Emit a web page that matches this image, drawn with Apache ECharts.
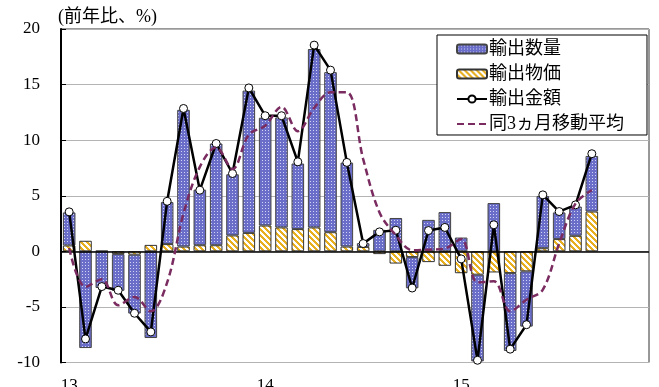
<!DOCTYPE html>
<html>
<head>
<meta charset="utf-8">
<script src="https://cdn.jsdelivr.net/npm/echarts@6/dist/echarts.min.js"></script>
<style>
  html, body { margin: 0; padding: 0; background: #fff; }
  #chart { width: 659px; height: 387px; }
</style>
</head>
<body>
<div id="chart"></div>
<script>
// Year labels on the category axis (one per January)
const yearLabels = ['13', '14', '15'];
// Monthly categories, Jan 2013 - Dec 2015
const categories = [];
yearLabels.forEach(function (y) {
  for (let m = 1; m <= 12; m++) categories.push(y + '/' + m);
});

// 輸出物価 (export prices), % y/y
const exportPrice = [0.53, 0.95, 0.05, -0.25, -0.3, 0.58, 0.65, 0.43, 0.55, 0.55, 1.43, 1.66,
  2.32, 2.15, 2.0, 2.15, 1.72, 0.43, 0.4, -0.25, -1.1, -0.52, -0.97, -1.3,
  -1.97, -2.1, -1.9, -1.96, -1.8, 0.28, 1.1, 1.4, 3.58];
// 輸出数量 (export volume), % y/y
const exportVolume = [2.97, -8.7, -3.3, -3.3, -5.3, -7.8, 3.78, 12.3, 5.0, 9.15, 5.5, 12.8,
  9.7, 9.9, 5.9, 16.05, 14.4, 7.55, 0.33, 1.93, 3.0, -2.8, 2.83, 3.53,
  1.24, -7.8, 4.34, -7.0, -4.97, 4.7, 2.4, 2.63, 5.0];
// 輸出金額 (export value), % y/y
const exportValue = [3.55, -7.88, -3.17, -3.5, -5.57, -7.25, 4.5, 12.85, 5.5, 9.7, 7.0, 14.7,
  12.2, 12.2, 8.05, 18.55, 16.3, 8.0, 0.7, 1.75, 1.9, -3.3, 1.87, 2.15,
  -0.68, -9.8, 2.39, -8.8, -6.6, 5.08, 3.58, 4.18, 8.78];
// 同3ヵ月移動平均 (3-month moving average of export value)
const valueMA3 = [0.3, -3.2, -2.5, -4.85, -4.1, -5.4, -2.8, 3.4, 7.6, 9.35, 7.4, 10.5,
  11.3, 13.0, 10.8, 12.9, 14.3, 14.3, 8.3, 3.5, 1.45, 0.1, 0.15, 0.25,
  1.1, -2.8, -2.7, -5.4, -4.35, -3.45, 0.7, 4.3, 5.5];
// Value axis ticks
const yTicks = { min: -10, max: 20, interval: 5 };

// Fill patterns for the stacked bars
function dottedBlue() {
  const c = document.createElement('canvas');
  c.width = 3; c.height = 3;
  const ctx = c.getContext('2d');
  ctx.fillStyle = '#6a6ec8';
  ctx.fillRect(0, 0, 3, 3);
  ctx.fillStyle = '#d2d4f3';
  ctx.fillRect(1, 1, 1, 1);
  return c;
}
function hatchYellow() {
  const n = 6;
  const c = document.createElement('canvas');
  c.width = n; c.height = n;
  const ctx = c.getContext('2d');
  const img = ctx.createImageData(n, n);
  for (let j = 0; j < n; j++) {
    for (let i = 0; i < n; i++) {
      const k = (j * n + i) * 4;
      const gold = (((i - j) % n) + n) % n < 3;
      img.data[k] = gold ? 232 : 255;
      img.data[k + 1] = gold ? 176 : 255;
      img.data[k + 2] = gold ? 32 : 255;
      img.data[k + 3] = 255;
    }
  }
  ctx.putImageData(img, 0, 0);
  return c;
}

const FONT = "'Liberation Serif', 'Times New Roman', 'Noto Sans CJK JP', serif";
const chart = echarts.init(document.getElementById('chart'), null, { renderer: 'canvas' });

chart.setOption({
  animation: false,
  backgroundColor: '#fff',
  title: {
    text: '(前年比、%)',
    left: 58, top: 8, padding: 0,
    textStyle: { fontFamily: FONT, fontSize: 18, fontWeight: 'normal', color: '#000' }
  },
  grid: {
    left: 61, right: 10, top: 29, bottom: 24.5,
    outerBoundsMode: 'none',
    containLabel: false,
    show: true, borderColor: '#333', borderWidth: 1, backgroundColor: 'transparent'
  },
  legend: {
    orient: 'vertical',
    left: 437, top: 35,
    data: [
      '輸出数量', '輸出物価', '輸出金額',
      { name: '同3ヵ月移動平均', itemStyle: { opacity: 0 } }
    ],
    itemWidth: 30, itemHeight: 9, itemGap: 7,
    padding: [5, 23, 2, 19],
    borderColor: '#000', borderWidth: 1,
    backgroundColor: '#fff',
    textStyle: { fontFamily: FONT, fontSize: 18, color: '#000', padding: [0, 0, 0, -3] }
  },
  xAxis: {
    type: 'category',
    data: categories,
    axisLine: { show: false },
    axisTick: { show: false },
    axisLabel: {
      margin: 15,
      fontFamily: FONT, fontSize: 17, color: '#000',
      interval: function (idx) { return idx % 12 === 0; },
      formatter: function (v) { return v.split('/')[0]; }
    }
  },
  yAxis: {
    type: 'value',
    min: yTicks.min, max: yTicks.max, interval: yTicks.interval,
    axisLine: { show: true, lineStyle: { color: '#000', width: 2 } },
    axisTick: { show: true, inside: true, length: 5, lineStyle: { color: '#000' } },
    axisLabel: { margin: 21, fontFamily: FONT, fontSize: 17, color: '#000' },
    splitLine: { show: true, lineStyle: { color: '#b4b4b4', width: 1 } }
  },
  series: [
    {
      name: '輸出物価', type: 'bar', stack: 'exports', barWidth: '77%',
      data: exportPrice,
      itemStyle: { color: { image: hatchYellow(), repeat: 'repeat' }, borderColor: '#333', borderWidth: 1 },
      z: 2
    },
    {
      name: '輸出数量', type: 'bar', stack: 'exports', barWidth: '77%',
      data: exportVolume,
      itemStyle: { color: { image: dottedBlue(), repeat: 'repeat' }, borderColor: '#444', borderWidth: 1 },
      markLine: {
        silent: true, symbol: 'none', label: { show: false },
        lineStyle: { color: '#000', width: 1.5, type: 'solid' },
        data: [{ yAxis: 0 }]
      },
      z: 2
    },
    {
      name: '輸出金額', type: 'line', data: exportValue,
      symbol: 'circle', symbolSize: 8,
      lineStyle: { color: '#000', width: 2.5 },
      itemStyle: { color: '#fff', borderColor: '#000', borderWidth: 1 },
      z: 4
    },
    {
      name: '同3ヵ月移動平均', type: 'line', data: valueMA3,
      symbol: 'none', smooth: 0.35,
      lineStyle: { color: '#7a2b60', width: 2.5, type: [7, 4] },
      itemStyle: { color: '#7a2b60' },
      z: 5
    }
  ]
});
</script>
</body>
</html>
